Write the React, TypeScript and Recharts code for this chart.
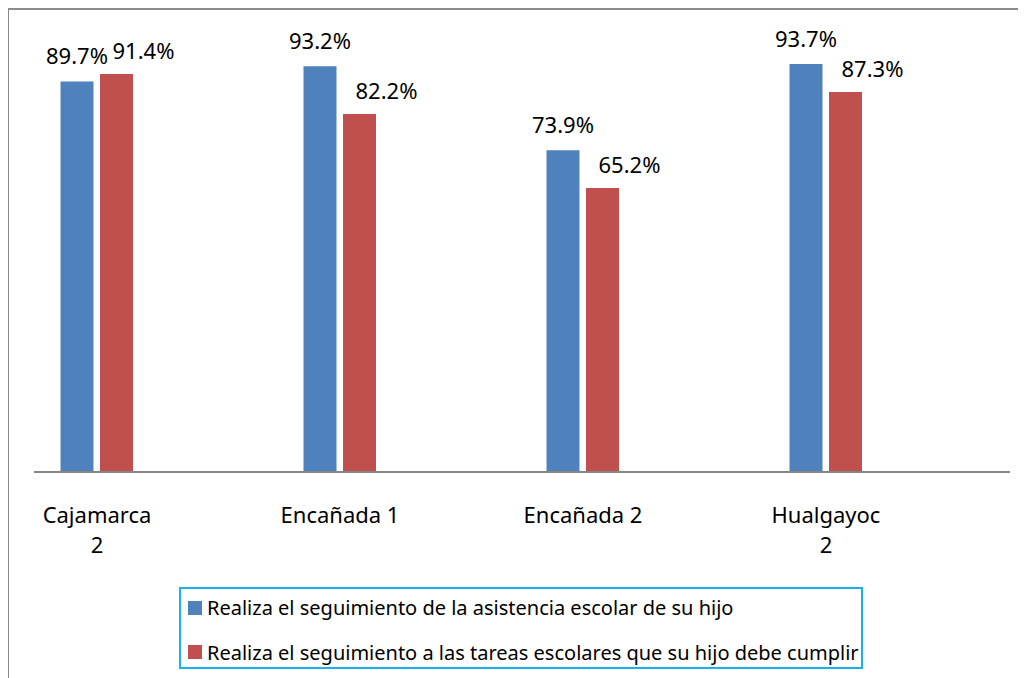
import React from "react";
import { BarChart, Bar, XAxis, YAxis, Legend, LabelList } from "recharts";

const categories = ["Cajamarca 2", "Encañada 1", "Encañada 2", "Hualgayoc 2"];
const tickLabels = [["Cajamarca", "2"], ["Encañada 1"], ["Encañada 2"], ["Hualgayoc", "2"]];
const asistencia = [89.7, 93.2, 73.9, 93.7];
const tareas = [91.4, 82.2, 65.2, 87.3];
const seriesNames = [
  "Realiza el seguimiento de la asistencia escolar de su hijo",
  "Realiza el seguimiento a las tareas escolares que su hijo debe cumplir",
];
const seriesColors = ["#4f81bd", "#c0504d"];

const data = categories.map((c, i) => ({
  name: c,
  idx: i,
  asistencia: asistencia[i],
  tareas: tareas[i],
}));

const FONT = "'Noto Sans', sans-serif";

const makeLabel = (dx: number, off: number) => (props: any) => {
  const { x, y, width, value } = props;
  return (
    <text
      x={x + width / 2 + dx}
      y={y - off}
      textAnchor="middle"
      fontFamily={FONT}
      fontSize={22}
      fill="#000"
    >
      {`${Number(value).toFixed(1)}%`}
    </text>
  );
};

const Tick = (props: any) => {
  const { x, y, payload } = props;
  const lines = tickLabels[payload.index] ?? [String(payload.value)];
  return (
    <g>
      {lines.map((l: string, k: number) => (
        <text
          key={k}
          x={x}
          y={y + 51 + k * 30}
          textAnchor="middle"
          fontFamily={FONT}
          fontSize={22}
          fill="#000"
        >
          {l}
        </text>
      ))}
    </g>
  );
};

const LegendBox = (props: any) => {
  const payload = [...(props.payload || [])].sort(
    (a: any, b: any) => seriesNames.indexOf(a.value) - seriesNames.indexOf(b.value)
  );
  return (
    <div
      style={{
        boxSizing: "border-box",
        width: 684,
        height: 82,
        border: "2px solid #1ab0ea",
        position: "relative",
        background: "#fff",
        fontFamily: FONT,
        fontSize: 20,
        color: "#000",
      }}
    >
      {payload.map((p: any, i: number) => (
        <div
          key={i}
          style={{
            position: "absolute",
            left: 7,
            top: 7.5 + i * 44.5,
            height: 22,
            display: "flex",
            alignItems: "center",
            whiteSpace: "nowrap",
          }}
        >
          <span
            style={{
              display: "inline-block",
              width: 14,
              height: 14,
              background: p.color,
              marginRight: 5,
            }}
          />
          <span>{p.value}</span>
        </div>
      ))}
    </div>
  );
};

export default function App() {
  return (
    <div style={{ position: "relative", width: 1018, height: 670, overflow: "visible" }}>
      <BarChart
        width={1018}
        height={670}
        data={data}
        margin={{ top: 28.6, right: 16, left: 26, bottom: 106 }}
        barGap={6.5}
        style={{ fontFamily: FONT }}
      >
        <XAxis
          dataKey="name"
          height={100}
          padding={{ left: -58.5, right: 62.5 }}
          axisLine={{ stroke: "#868686", strokeWidth: 2 }}
          tickLine={false}
          tickSize={0}
          tickMargin={0}
          interval={0}
          tick={<Tick />}
        />
        <YAxis hide domain={[0, 100]} />
        <Legend
          layout="vertical"
          align="center"
          verticalAlign="middle"
          itemSorter={null}
          wrapperStyle={{ position: "absolute", left: 171, top: 579, width: 684, height: 82 }}
          content={<LegendBox />}
        />
        <Bar
          dataKey="asistencia"
          name={seriesNames[0]}
          fill={seriesColors[0]}
          barSize={33}
          isAnimationActive={false}
        >
          <LabelList dataKey="asistencia" content={makeLabel(0, 17)} />
        </Bar>
        <Bar
          dataKey="tareas"
          name={seriesNames[1]}
          fill={seriesColors[1]}
          barSize={33}
          isAnimationActive={false}
        >
          <LabelList dataKey="tareas" content={makeLabel(27, 15)} />
        </Bar>
      </BarChart>
      <div style={{ position: "absolute", left: -1, top: 0, width: 1019, height: 2, background: "#8c8c8c" }} />
      <div style={{ position: "absolute", left: -1, top: 0, width: 2, height: 670, background: "#8c8c8c" }} />
    </div>
  );
}
